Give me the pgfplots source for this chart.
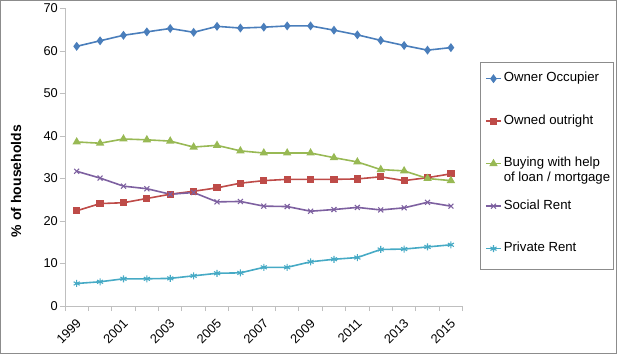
\documentclass[border=0pt]{standalone}
\usepackage{pgfplots}
\usepackage{pgfplotstable}
\pgfplotsset{compat=1.18}
\usepackage{fontspec}
\setmainfont{Liberation Sans}
\definecolor{cOwn}{HTML}{4A7EBB}
\definecolor{cOut}{HTML}{BE4B48}
\definecolor{cBuy}{HTML}{98B954}
\definecolor{cSoc}{HTML}{7D60A0}
\definecolor{cPri}{HTML}{46AAC5}
\definecolor{axgray}{HTML}{BFBFBF}
\definecolor{frgray}{HTML}{8C8C8C}

\pgfplotstableread{
x  year owner outright buying social private
0  1999 61.1 22.4 38.6 31.7 5.3
1  2000 62.4 24.1 38.3 30.1 5.7
2  2001 63.7 24.3 39.3 28.2 6.4
3  2002 64.5 25.3 39.1 27.6 6.4
4  2003 65.3 26.3 38.8 26.3 6.5
5  2004 64.4 27.0 37.4 26.7 7.1
6  2005 65.8 27.8 37.8 24.5 7.7
7  2006 65.4 28.9 36.5 24.6 7.8
8  2007 65.6 29.5 36.0 23.5 9.1
9  2008 65.9 29.8 36.0 23.4 9.1
10 2009 65.9 29.8 36.0 22.3 10.4
11 2010 64.9 29.8 34.9 22.7 11.0
12 2011 63.8 29.9 33.9 23.2 11.4
13 2012 62.5 30.4 32.1 22.6 13.3
14 2013 61.3 29.5 31.8 23.1 13.4
15 2014 60.2 30.2 30.0 24.4 13.9
16 2015 60.8 31.1 29.5 23.5 14.4
}\datatable

\begin{document}
\begin{tikzpicture}
\path[use as bounding box] (-65bp,-48bp) rectangle (552bp,306bp);
\draw[frgray, line width=1.2bp] (-64.4bp,-47.4bp) rectangle (551.4bp,305.4bp);
\begin{axis}[
  at={(0,0)}, anchor=south west,
  scale only axis, width=397.6bp, height=297.5bp,
  xmin=-0.5, xmax=16.5, ymin=0, ymax=70,
  axis lines=left,
  axis line style={axgray, line width=0.9bp, -},
  tick style={axgray, line width=0.9bp},
  tick align=outside,
  major tick length=5bp,
  minor tick length=5bp,
  xtick={0,2,...,16},
  xticklabels={1999,2001,2003,2005,2007,2009,2011,2013,2015},
  major x tick style={draw=none},
  minor xtick={-0.5,0.5,...,16.5},
  xticklabel style={rotate=45, anchor=north east, inner sep=1bp, yshift=-3bp, xshift=-4.5bp,
    font=\fontsize{12.8bp}{14bp}\selectfont},
  ytick={0,10,...,70},
  yticklabel style={font=\fontsize{12.8bp}{14bp}\selectfont, inner sep=2bp},
  /pgf/number format/assume math mode=true,
  ylabel={\% of households},
  ylabel style={at={(axis description cs:-0.1232,0.42)}, anchor=center,
    font=\bfseries\fontsize{14bp}{16bp}\selectfont},
  clip=false,
  legend cell align=left,
  legend style={at={(axis description cs:1.0563,0.7849)}, anchor=north west,
    draw=none, fill=none, inner sep=0pt, row sep=30.5bp, column sep=2bp,
    font=\fontsize{13.2bp}{15bp}\selectfont,
    nodes={inner sep=0pt, text height=9bp, text depth=3bp}},
  legend image code/.code={
    \draw[mark repeat=2,mark phase=2,#1] plot coordinates {(0bp,0bp) (7.5bp,0bp) (15bp,0bp)};},
  every axis plot/.append style={line width=1.6bp},
]
\addplot[cOwn, mark=diamond*, mark size=3.2bp, mark options={solid}] table[x=x,y=owner]{\datatable};
\addlegendentry{Owner Occupier}
\addplot[cOut, mark=square*, mark size=2.8bp] table[x=x,y=outright]{\datatable};
\addlegendentry{Owned outright}
\addplot[cBuy, mark=triangle*, mark size=3.3bp] table[x=x,y=buying]{\datatable};
\addlegendentry{\begin{tabular}[t]{@{}l@{}}Buying with help\\of loan / mortgage\end{tabular}}
\addplot[cSoc, mark=x, mark size=3.5bp, mark options={line width=1.1bp}] table[x=x,y=social]{\datatable};
\addlegendentry{Social Rent}
\addplot[cPri, mark=asterisk, mark size=3.5bp, mark options={line width=1.1bp}] table[x=x,y=private]{\datatable};
\addlegendentry{Private Rent}
\draw[frgray, line width=0.8bp] (axis description cs:1.0437,0.8176) rectangle (axis description cs:1.3782,0.1244);
\end{axis}
\end{tikzpicture}
\end{document}
